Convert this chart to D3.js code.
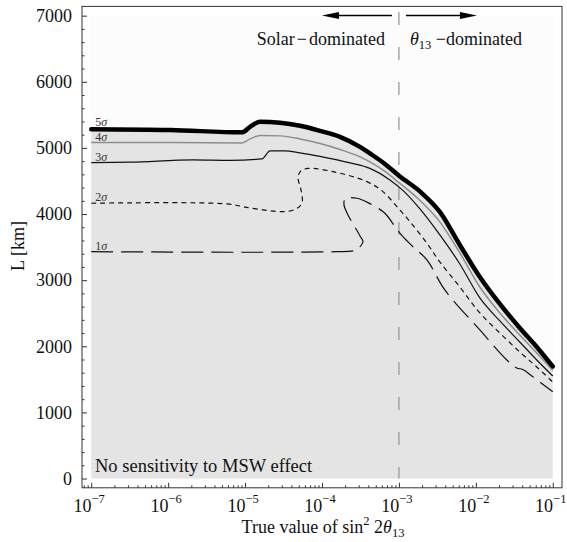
<!DOCTYPE html>
<html><head><meta charset="utf-8">
<script src="https://cdn.jsdelivr.net/npm/d3@7"></script>
<style>body{margin:0;background:#fff}svg{display:block}</style>
</head><body>
<svg id="chart" width="567" height="542"></svg>
<script>
// ---- data (x stored as log10 of sin^2 2θ13, y = L in km) ----
const xTickExponents = [-7, -6, -5, -4, -3, -2, -1];
const yTickValues = [0, 1000, 2000, 3000, 4000, 5000, 6000, 7000];
const sigmaLabels = ["5", "4", "3", "2", "1"];

const sigma5LogS = [-7, -5.974, -5.039, -4.935, -4.805, -4.545, -4.286, -4.026, -3.766, -3.506, -3.377, -3.182, -2.987, -2.727, -2.468, -2.208, -1.948, -1.688, -1.429, -1.208, -1.0];
const sigma5L    = [5283, 5271, 5235, 5319, 5395, 5380, 5334, 5258, 5168, 5016, 4917, 4758, 4569, 4342, 4032, 3532, 3048, 2640, 2277, 1990, 1695];

const sigma4LogS = [-7, -5.974, -5.039, -4.935, -4.805, -4.545, -4.286, -4.026, -3.766, -3.506, -3.377, -3.182, -2.987, -2.727, -2.468, -2.208, -1.948, -1.688, -1.429, -1.208, -1.0];
const sigma4L    = [5080, 5080, 5076, 5136, 5189, 5182, 5136, 5068, 4977, 4864, 4788, 4645, 4463, 4206, 3881, 3412, 2897, 2504, 2171, 1899, 1634];

const sigma3LogS = [-7, -6.494, -5.675, -5.195, -4.779, -4.675, -4.481, -4.286, -4.026, -3.636, -3.377, -3.117, -2.948, -2.727, -2.468, -2.208, -1.948, -1.688, -1.429, -1.208, -1.0];
const sigma3L    = [4778, 4784, 4819, 4811, 4834, 4955, 4955, 4925, 4872, 4773, 4690, 4516, 4357, 4077, 3684, 3245, 2731, 2383, 2065, 1793, 1551];

const sigma2LogS = [-7, -5.234, -4.935, -4.506, -4.338, -4.260, -4.273, -4.312, -4.273, -4.182, -3.857, -3.416, -3.208, -3.026, -2.857, -2.636, -2.468, -2.208, -1.948, -1.688, -1.429, -1.208, -1.0];
const sigma2L    = [4163, 4153, 4092, 4036, 4077, 4168, 4365, 4561, 4652, 4690, 4641, 4490, 4339, 4112, 3885, 3558, 3275, 2897, 2504, 2201, 1914, 1687, 1460];

const sigma1LogS = [-7, -4.935, -3.805, -3.597, -3.545, -3.468, -3.506, -3.662, -3.714, -3.701, -3.662, -3.545, -3.403, -3.182, -3.052, -2.948, -2.818, -2.636, -2.403, -1.948, -1.597, -1.468, -1.390, -1.260, -1.0];
const sigma1L    = [3431, 3422, 3431, 3442, 3465, 3578, 3669, 3987, 4138, 4229, 4244, 4239, 4173, 4012, 3809, 3658, 3506, 3306, 2852, 2247, 1793, 1672, 1649, 1540, 1313];

const boundaryLogS = -3; // solar / θ13 dominated boundary

// ---- layout ----
const FONT = "'Liberation Serif','Times New Roman',serif";
const svg = d3.select("#chart");
const L = 82, R = 562, T = 6.4, B = 487.8;
const x = d3.scaleLog().domain([Math.pow(10, -7.12), Math.pow(10, -0.88)]).range([L, R]);
const y = d3.scaleLinear().domain([-140, 7140]).range([B, T]);

const zip = (a, b) => a.map((v, i) => [v, b[i]]);
const s5 = zip(sigma5LogS, sigma5L), s4 = zip(sigma4LogS, sigma4L), s3 = zip(sigma3LogS, sigma3L),
      s2 = zip(sigma2LogS, sigma2L), s1 = zip(sigma1LogS, sigma1L);

const xmin = Math.pow(10, xTickExponents[0]), xmax = Math.pow(10, xTickExponents[xTickExponents.length - 1]);

// region background
svg.append("rect").attr("x", x(xmin)).attr("y", y(7000)).attr("width", x(xmax) - x(xmin))
  .attr("height", y(0) - y(7000)).attr("fill", "#fcfcfc");

// gray no-sensitivity region under 5σ
const area = d3.area().x(d => x(Math.pow(10, d[0]))).y0(y(0)).y1(d => y(d[1])).curve(d3.curveMonotoneX);
svg.append("path").datum(s5).attr("d", area).attr("fill", "#e4e4e4");

// dashed boundary line
const xb = x(Math.pow(10, boundaryLogS));
svg.append("line").attr("x1", xb).attr("x2", xb).attr("y1", 12).attr("y2", y(0))
  .attr("stroke", "#9a9a9a").attr("stroke-width", 1.3).attr("stroke-dasharray", "13,22");

// contours
const lineMono = d3.line().x(d => x(Math.pow(10, d[0]))).y(d => y(d[1])).curve(d3.curveMonotoneX);
const lineFold = d3.line().x(d => x(Math.pow(10, d[0]))).y(d => y(d[1])).curve(d3.curveCatmullRom.alpha(0.5));
const styles = [
  {d: s1, gen: lineFold, stroke: "#111", w: 1.2, dash: "22,8"},
  {d: s2, gen: lineFold, stroke: "#111", w: 1.2, dash: "5,4"},
  {d: s3, gen: lineMono, stroke: "#111", w: 1.2, dash: null},
  {d: s4, gen: lineMono, stroke: "#8c8c8c", w: 1.5, dash: null},
  {d: s5, gen: lineMono, stroke: "#000", w: 4.5, dash: null, cap: "round"}
];
styles.forEach(s => {
  svg.append("path").datum(s.d).attr("d", s.gen).attr("fill", "none")
    .attr("stroke", s.stroke).attr("stroke-width", s.w)
    .attr("stroke-dasharray", s.dash).attr("stroke-linecap", s.cap || "butt")
    .attr("stroke-linejoin", "round");
});

// sigma labels
[s5, s4, s3, s2, s1].forEach((s, i) => {
  const t = svg.append("text").attr("x", x(xmin) + 4).attr("y", y(s[0][1]) - (i === 0 ? 3.5 : 2))
    .attr("font-family", FONT).attr("font-size", 12).attr("fill", "#333");
  t.append("tspan").text(sigmaLabels[i]);
  t.append("tspan").attr("font-style", "italic").text("σ");
});

// frame
svg.append("rect").attr("x", L).attr("y", T).attr("width", R - L).attr("height", B - T)
  .attr("fill", "none").attr("stroke", "#333").attr("stroke-width", 1);

// x axis ticks (inward)
const majorX = xTickExponents.map(e => Math.pow(10, e));
const minorX = [];
for (let e = -8; e <= -1; e++) for (let m = 2; m <= 9; m++) {
  const v = m * Math.pow(10, e);
  if (v > x.domain()[0] && v < x.domain()[1]) minorX.push(v);
}
const gx = svg.append("g").attr("transform", `translate(0,${B})`);
gx.call(d3.axisBottom(x).tickValues(majorX).tickSizeInner(-5).tickSizeOuter(0).tickFormat(""));
const gx2 = svg.append("g").attr("transform", `translate(0,${B})`);
gx2.call(d3.axisBottom(x).tickValues(minorX).tickSizeInner(-2.5).tickSizeOuter(0).tickFormat(""));
[gx, gx2].forEach(g => { g.select(".domain").remove(); g.selectAll("line").attr("stroke", "#333"); });

xTickExponents.forEach(e => {
  const t = svg.append("text").attr("x", x(Math.pow(10, e)) - 2).attr("y", 511.5)
    .attr("text-anchor", "middle").attr("font-family", FONT).attr("font-size", 18).attr("fill", "#111");
  t.append("tspan").text("10");
  t.append("tspan").attr("font-size", 12.5).attr("dy", -9).text("\u2212" + Math.abs(e));
});

// y axis ticks (inward)
const minorY = d3.range(0, 7001, 200).filter(v => v % 1000 !== 0);
const gy = svg.append("g").attr("transform", `translate(${L},0)`);
gy.call(d3.axisLeft(y).tickValues(yTickValues).tickSizeInner(-5).tickSizeOuter(0).tickPadding(10).tickFormat(d3.format("d")));
const gy2 = svg.append("g").attr("transform", `translate(${L},0)`);
gy2.call(d3.axisLeft(y).tickValues(minorY).tickSizeInner(-2.5).tickSizeOuter(0).tickFormat(""));
[gy, gy2].forEach(g => { g.select(".domain").remove(); g.selectAll("line").attr("stroke", "#333"); });
gy.selectAll("text").attr("font-family", FONT).attr("font-size", 18).attr("fill", "#111");

// axis titles
const xt = svg.append("text").attr("x", 323).attr("y", 533).attr("text-anchor", "middle")
  .attr("font-family", FONT).attr("font-size", 18).attr("fill", "#111");
xt.append("tspan").text("True value of sin");
xt.append("tspan").attr("font-size", 12.5).attr("dy", -8).text("2");
xt.append("tspan").attr("dy", 8).text(" 2");
xt.append("tspan").attr("font-style", "italic").text("θ");
xt.append("tspan").attr("font-size", 12.5).attr("dy", 4).text("13");

svg.append("text").attr("transform", "translate(24,246) rotate(-90)").attr("text-anchor", "middle")
  .attr("font-family", FONT).attr("font-size", 18).attr("fill", "#111").text("L [km]");

// annotations
svg.append("text").attr("x", 95).attr("y", 471.5).attr("font-family", FONT).attr("font-size", 18.5)
  .attr("fill", "#111").text("No sensitivity to MSW effect");

const st = svg.append("text").attr("x", xb - 14).attr("y", 45).attr("text-anchor", "end").attr("font-family", FONT)
  .attr("font-size", 18).attr("fill", "#111");
st.append("tspan").text("Solar");
st.append("tspan").attr("dx", 2).text("\u2212");
st.append("tspan").attr("dx", 2).text("dominated");
const tt = svg.append("text").attr("x", xb + 11).attr("y", 45).attr("font-family", FONT)
  .attr("font-size", 18).attr("fill", "#111");
tt.append("tspan").attr("font-style", "italic").text("θ");
tt.append("tspan").attr("font-size", 12.5).attr("dy", 4).text("13");
tt.append("tspan").attr("dy", -4).text(" \u2212dominated");

// arrows
const ay = 15.5;
function arrow(x0, x1) {
  const dir = Math.sign(x1 - x0);
  svg.append("line").attr("x1", x0).attr("x2", x1 - dir * 12).attr("y1", ay).attr("y2", ay)
    .attr("stroke", "#000").attr("stroke-width", 1.4);
  svg.append("path").attr("d", `M${x1},${ay} L${x1 - dir * 17},${ay - 3.5} L${x1 - dir * 17},${ay + 3.5} Z`).attr("fill", "#000");
}
arrow(xb - 7, xb - 77);
arrow(xb + 7, xb + 78);
</script>
</body></html>
